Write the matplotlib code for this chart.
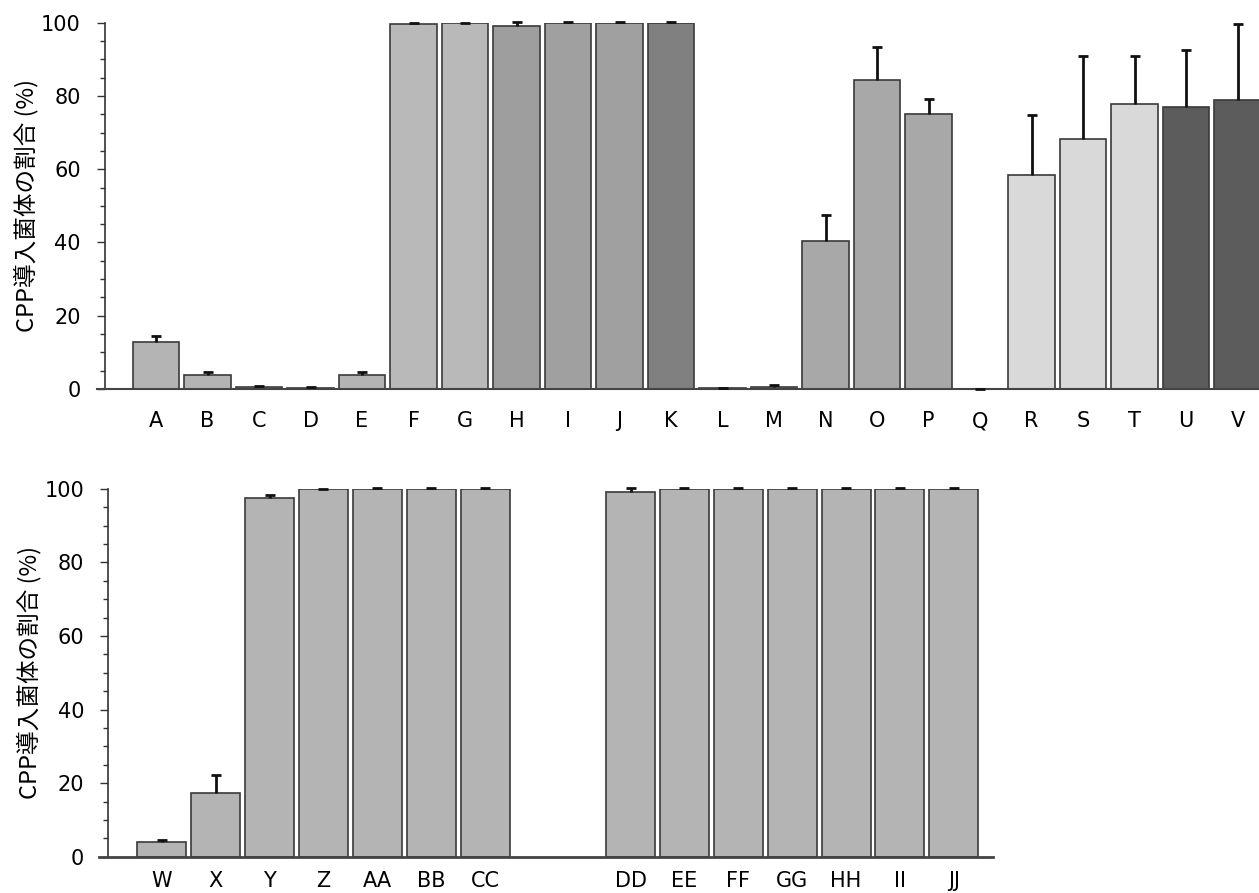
import numpy as np
import matplotlib.pyplot as plt

# Top panel data
top_labels = ["A", "B", "C", "D", "E", "F", "G", "H", "I", "J", "K",
              "L", "M", "N", "O", "P", "Q", "R", "S", "T", "U", "V"]
top_values = [12.9, 3.9, 0.6, 0.35, 3.9, 99.7, 99.8, 99.0, 100.0, 100.0, 100.0,
              0.2, 0.6, 40.5, 84.3, 75.1, 0.1, 58.5, 68.3, 77.8, 77.1, 78.9]
top_errors = [1.5, 0.8, 0.3, 0.3, 0.8, 0.2, 0.2, 1.3, 0.1, 0.1, 0.1,
              0.1, 0.5, 7.0, 9.1, 4.1, 0.0, 16.2, 22.6, 13.0, 15.4, 20.8]

# Bottom panel data (two groups)
bot_labels_1 = ["W", "X", "Y", "Z", "AA", "BB", "CC"]
bot_values_1 = [4.1, 17.2, 97.4, 99.8, 100.0, 100.0, 99.8]
bot_errors_1 = [0.4, 4.9, 0.9, 0.2, 0.1, 0.1, 0.3]

bot_labels_2 = ["DD", "EE", "FF", "GG", "HH", "II", "JJ"]
bot_values_2 = [99.0, 100.0, 100.0, 100.0, 100.0, 100.0, 100.0]
bot_errors_2 = [1.1, 0.1, 0.1, 0.1, 0.1, 0.1, 0.1]

# bar fill greys for the top panel
top_colors = (["#b4b4b4"] * 5 + ["#b9b9b9"] * 2 + ["#9e9e9e", "#a0a0a0", "#a0a0a0", "#808080"]
              + ["#a8a8a8"] * 6 + ["#d9d9d9"] * 3 + ["#5c5c5c"] * 2)

ylabel = "CPP導入菌体の割合 (%)"
cjk = ["Noto Sans CJK JP", "DejaVu Sans"]


def style_axis(ax, xmin, xmax, bottom_lw):
    ax.set_ylim(0, 100)
    ax.set_xlim(xmin, xmax)
    for side in ["top", "right"]:
        ax.spines[side].set_visible(False)
    ax.spines["left"].set_position(("data", -1))
    ax.spines["left"].set_color("#333333")
    ax.spines["left"].set_linewidth(1.2)
    ax.spines["bottom"].set_color("#444444")
    ax.spines["bottom"].set_linewidth(bottom_lw)
    ax.set_yticks(np.arange(0, 101, 20))
    ax.set_yticks(np.arange(0, 101, 5), minor=True)
    ax.tick_params(axis="y", which="major", length=6, width=1.0, color="#333333",
                   labelsize=15, pad=11)
    ax.tick_params(axis="y", which="minor", length=3.5, width=1.0, color="#333333")
    ax.tick_params(axis="x", length=0, labelsize=15)
    ax.set_ylabel(ylabel, family=cjk, fontsize=17, labelpad=2)


def draw_bars(ax, x, values, errors, colors, width):
    ax.bar(x, values, width=width, color=colors, edgecolor="#3a3a3a", linewidth=1.2, zorder=2)
    lower = np.zeros(len(values))
    eb = ax.errorbar(x, values, yerr=[lower, errors], fmt="none", ecolor="#111111",
                     elinewidth=2, capsize=3.3, capthick=2, zorder=3, clip_on=False)
    # only the upper cap is shown
    eb[1][0].set_visible(False)


fig = plt.figure(figsize=(12.59, 8.93), dpi=100)

# top panel
ax1 = fig.add_axes([0.0769, 0.5644, 0.9245, 0.4102])
x_top = np.arange(len(top_labels))
draw_bars(ax1, x_top, top_values, top_errors, top_colors, 0.9)
style_axis(ax1, -1.15, 21.45, 1.5)
ax1.set_xticks(x_top)
ax1.set_xticklabels(top_labels)
ax1.tick_params(axis="x", pad=16)

# bottom panel
ax2 = fig.add_axes([0.0784, 0.0406, 0.710, 0.4121])
x_b1 = np.arange(len(bot_labels_1))
x_b2 = np.arange(len(bot_labels_2)) + 8.7
draw_bars(ax2, x_b1, bot_values_1, bot_errors_1, "#b4b4b4", 0.91)
draw_bars(ax2, x_b2, bot_values_2, bot_errors_2, "#b4b4b4", 0.91)
style_axis(ax2, -1.17, 15.42, 2.0)
ax2.set_xticks(np.concatenate([x_b1, x_b2]))
ax2.set_xticklabels(bot_labels_1 + bot_labels_2)
ax2.tick_params(axis="x", pad=10)

fig.savefig("out.png", dpi=100)
